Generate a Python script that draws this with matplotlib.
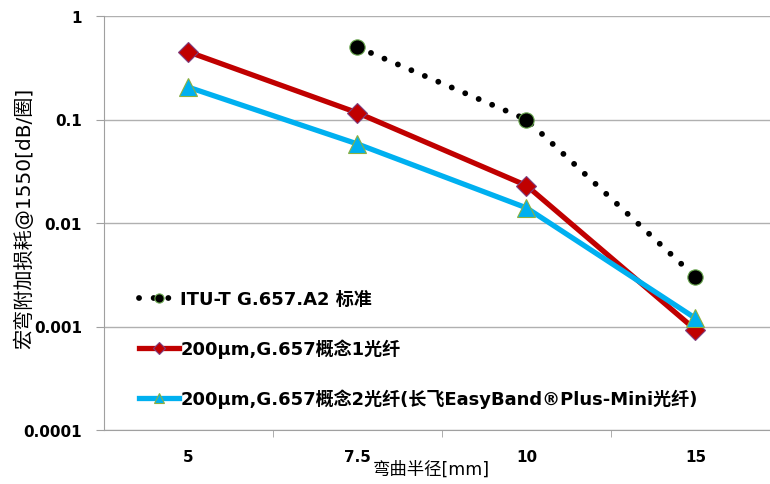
import matplotlib
matplotlib.use("Agg")
import matplotlib.pyplot as plt
import numpy as np

plt.rcParams['font.family'] = ['DejaVu Sans', 'Noto Sans CJK SC']

radius = ["5", "7.5", "10", "15"]
itu = [np.nan, 0.5, 0.1, 0.003]
fiber1 = [0.45, 0.116, 0.023, 0.00093]
fiber2 = [0.205, 0.058, 0.014, 0.0012]
names = ["ITU-T G.657.A2 标准",
         "200µm,G.657概念1光纤",
         "200µm,G.657概念2光纤(长飞EasyBand®Plus-Mini光纤)"]
yticks = [0.0001, 0.001, 0.01, 0.1, 1]
ylabels = ["0.0001", "0.001", "0.01", "0.1", "1"]

fig = plt.figure(figsize=(7.7, 4.85), dpi=100)
ax = fig.add_axes([104/770, 54/485, 676/770, 414/485])
x = np.arange(len(radius))

ax.plot(x, itu, color="black", lw=4.2, linestyle=(0, (0.01, 2.5)),
        dash_capstyle="round", marker="o", ms=11, mfc="black",
        mec="#6aa84f", mew=0.8, label=names[0])
ax.plot(x, fiber1, color="#C00000", lw=3.8, marker="D", ms=10.5,
        mfc="#C00000", mec="#7f3f7f", mew=0.8, label=names[1])
ax.plot(x, fiber2, color="#00B0F0", lw=3.8, marker="^", ms=13,
        mfc="#00B0F0", mec="#8db040", mew=0.8, label=names[2])

ax.set_yscale("log")
ax.set_ylim(0.0001, 1)
ax.set_xlim(-0.5, 3.5)
ax.set_yticks(yticks)
ax.set_yticklabels(ylabels, fontweight="bold", fontsize=11)
ax.yaxis.set_minor_locator(matplotlib.ticker.NullLocator())
ax.set_xticks(x)
ax.set_xticklabels(radius, fontweight="bold", fontsize=11)
ax.set_xticks(np.arange(0.5, 3.5, 1), minor=True)
ax.tick_params(axis="x", which="major", length=0, pad=14)
ax.tick_params(axis="x", which="minor", length=5, color="#a0a0a0")
ax.tick_params(axis="y", length=6, color="#a0a0a0", pad=10)
ax.grid(axis="y", color="#b0b0b0", lw=1)
for s in ["top", "right"]:
    ax.spines[s].set_visible(False)
for s in ["left", "bottom"]:
    ax.spines[s].set_color("#a0a0a0")

ax.set_ylabel("宏弯附加损耗@1550[dB/圈]", fontsize=14.5)
ax.yaxis.set_label_coords(-0.104, 0.514)
ax.set_xlabel("弯曲半径[mm]", fontsize=12.5)
ax.xaxis.set_label_coords(0.484, -0.072)

leg = ax.legend(loc="lower left", bbox_to_anchor=(0.0275, 0.013), frameon=False,
                prop={"weight": "bold", "size": 13}, labelspacing=1.7,
                handlelength=2.2, handletextpad=0.1, markerscale=0.6)

fig.savefig("out.png", dpi=100)
